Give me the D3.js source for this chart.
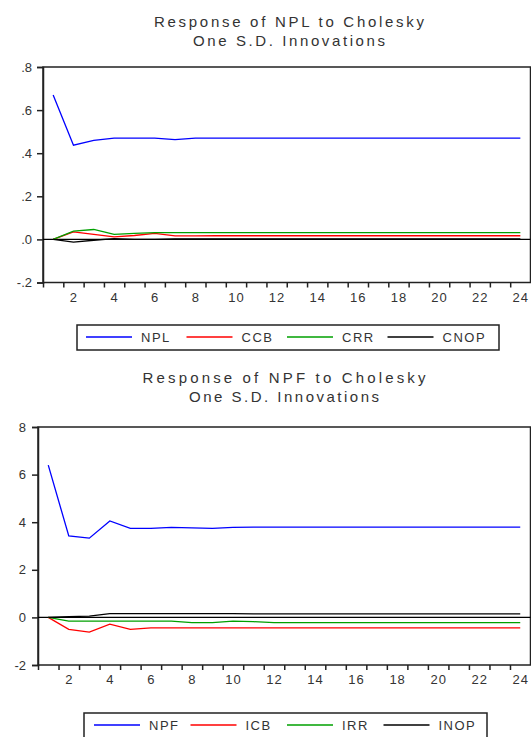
<!DOCTYPE html>
<html>
<head>
<meta charset="utf-8">
<title>Impulse responses</title>
<script src="https://d3js.org/d3.v7.min.js"></script>
<style>
  body { margin: 0; background: #fff; }
  svg { display: block; font-family: "Liberation Sans", Arial, sans-serif; }
  .title { fill: #333; font-size: 15px; text-anchor: middle; }
  .axis text { fill: #333; font-size: 13px; }
  .axis path, .axis line { stroke: #222; }
  .series { fill: none; stroke-width: 1.3; }
  .legend text { fill: #333; font-size: 13px; letter-spacing: 1.5px; }
</style>
</head>
<body>
<script>
// periods after the shock
const periods = [1, 2, 3, 4, 5, 6, 7, 8, 9, 10, 11, 12, 13, 14, 15, 16, 17, 18, 19, 20, 21, 22, 23, 24];
const xLabels = [2, 4, 6, 8, 10, 12, 14, 16, 18, 20, 22, 24];
const colors = ["#0000ff", "#ff0000", "#00a000", "#000000"];

// top panel: response of NPL
const topNames = ["NPL", "CCB", "CRR", "CNOP"];
const nplNPL  = [0.67, 0.437, 0.46, 0.47, 0.47, 0.47, 0.463, 0.47, 0.47, 0.47, 0.47, 0.47, 0.47, 0.47, 0.47, 0.47, 0.47, 0.47, 0.47, 0.47, 0.47, 0.47, 0.47, 0.47];
const nplCCB  = [0.0, 0.035, 0.023, 0.012, 0.018, 0.028, 0.016, 0.016, 0.017, 0.017, 0.017, 0.017, 0.017, 0.017, 0.017, 0.017, 0.017, 0.017, 0.017, 0.017, 0.017, 0.017, 0.017, 0.017];
const nplCRR  = [0.0, 0.038, 0.046, 0.023, 0.028, 0.031, 0.031, 0.031, 0.031, 0.031, 0.031, 0.031, 0.031, 0.031, 0.031, 0.031, 0.031, 0.031, 0.031, 0.031, 0.031, 0.031, 0.031, 0.031];
const nplCNOP = [0.0, -0.013, -0.004, 0.004, 0.0, 0.0, 0.002, 0.002, 0.002, 0.002, 0.002, 0.002, 0.002, 0.002, 0.002, 0.002, 0.002, 0.002, 0.002, 0.002, 0.002, 0.002, 0.002, 0.002];
const topYTicks = [-0.2, 0, 0.2, 0.4, 0.6, 0.8];
const topYLabels = ["-.2", ".0", ".2", ".4", ".6", ".8"];

// bottom panel: response of NPF
const botNames = ["NPF", "ICB", "IRR", "INOP"];
const npfNPF  = [6.4, 3.42, 3.33, 4.05, 3.74, 3.74, 3.78, 3.76, 3.74, 3.78, 3.79, 3.79, 3.79, 3.79, 3.79, 3.79, 3.79, 3.79, 3.79, 3.79, 3.79, 3.79, 3.79, 3.79];
const npfICB  = [0.0, -0.5, -0.62, -0.28, -0.5, -0.44, -0.44, -0.44, -0.44, -0.44, -0.44, -0.44, -0.44, -0.44, -0.44, -0.44, -0.44, -0.44, -0.44, -0.44, -0.44, -0.44, -0.44, -0.44];
const npfIRR  = [0.0, -0.16, -0.16, -0.16, -0.16, -0.16, -0.16, -0.22, -0.22, -0.16, -0.18, -0.22, -0.22, -0.22, -0.22, -0.22, -0.22, -0.22, -0.22, -0.22, -0.22, -0.22, -0.22, -0.22];
const npfINOP = [0.0, 0.03, 0.05, 0.16, 0.16, 0.16, 0.16, 0.16, 0.16, 0.16, 0.15, 0.15, 0.15, 0.15, 0.15, 0.15, 0.15, 0.15, 0.15, 0.15, 0.15, 0.15, 0.15, 0.15];
const botYTicks = [-2, 0, 2, 4, 6, 8];
const botYLabels = ["-2", "0", "2", "4", "6", "8"];

const svg = d3.select("body").append("svg").attr("width", 531).attr("height", 737);

function panel(cfg) {
  const g = svg.append("g");
  const x = d3.scaleLinear().domain([0.5, 24.5]).range([cfg.left, cfg.right]);
  const y = d3.scaleLinear().domain(cfg.yDomain).range([cfg.bottom, cfg.top]);

  g.append("text").attr("class", "title").attr("x", cfg.titleX).attr("y", cfg.titleY)
    .attr("textLength", cfg.titleW[0]).attr("lengthAdjust", "spacing").text(cfg.title[0]);
  g.append("text").attr("class", "title").attr("x", cfg.titleX).attr("y", cfg.titleY + 19)
    .attr("textLength", cfg.titleW[1]).attr("lengthAdjust", "spacing").text(cfg.title[1]);

  // frame
  g.append("rect").attr("x", cfg.left).attr("y", cfg.top)
    .attr("width", cfg.right - cfg.left).attr("height", cfg.bottom - cfg.top)
    .attr("fill", "none").attr("stroke", "#222").attr("stroke-width", 1.5);

  // y axis
  g.append("g").attr("class", "axis").attr("transform", `translate(${cfg.left},0)`)
    .call(d3.axisLeft(y).tickValues(cfg.yTicks).tickSize(6).tickPadding(cfg.yPad)
      .tickFormat((d, i) => cfg.yLabels[i]))
    .call(a => a.selectAll("line").attr("stroke-width", 1.5))
    .call(a => a.select(".domain").attr("stroke-width", 1.5));

  // x axis: ticks on bin edges, labels on bin centres
  g.append("g").attr("class", "axis").attr("transform", `translate(0,${cfg.bottom})`)
    .call(d3.axisBottom(x).tickValues(periods.map(p => p - 0.5)).tickSize(5).tickFormat(""))
    .call(a => a.selectAll("line").attr("stroke-width", 1.5))
    .call(a => a.select(".domain").remove());
  g.append("g").attr("class", "axis").attr("transform", `translate(0,${cfg.bottom})`)
    .call(d3.axisBottom(x).tickValues(xLabels).tickSize(0).tickPadding(10))
    .call(a => a.select(".domain").remove())
    .call(a => a.selectAll("text").attr("letter-spacing", "1px"));

  // zero line
  g.append("line").attr("x1", cfg.left).attr("x2", cfg.right)
    .attr("y1", y(0)).attr("y2", y(0)).attr("stroke", "#000").attr("stroke-width", 1.2);

  const line = d3.line().x((d, i) => x(periods[i])).y(d => y(d));
  cfg.series.forEach((s, k) => {
    g.append("path").attr("class", "series").attr("d", line(s)).attr("stroke", colors[k]);
  });

  // legend
  const lg = g.append("g").attr("class", "legend");
  lg.append("rect").attr("x", cfg.legend.x).attr("y", cfg.legend.y)
    .attr("width", cfg.legend.w).attr("height", 25)
    .attr("fill", "#fff").attr("stroke", "#222").attr("stroke-width", 1.5);
  cfg.names.forEach((n, k) => {
    const x0 = cfg.legend.x + cfg.legend.pad + k * cfg.legend.step;
    const cy = cfg.legend.y + 12;
    lg.append("path").attr("d", `M${x0},${cy}H${x0 + 46}`)
      .style("stroke", colors[k]).style("stroke-width", 1.5).style("fill", "none");
    lg.append("text").attr("x", x0 + 55).attr("y", cy + 5).text(n);
  });
}

panel({
  title: ["Response of NPL to Cholesky", "One S.D. Innovations"], titleW: [270, 192],
  titleX: 289, titleY: 27,
  left: 43, right: 530.5, top: 67, bottom: 282.5, yPad: 5,
  yDomain: [-0.2, 0.8], yTicks: topYTicks, yLabels: topYLabels,
  series: [nplNPL, nplCCB, nplCRR, nplCNOP], names: topNames,
  legend: { x: 77, y: 325, w: 422, pad: 9, step: 100.5 }
});

panel({
  title: ["Response of NPF to Cholesky", "One S.D. Innovations"], titleW: [283, 190],
  titleX: 284, titleY: 383,
  left: 38, right: 530.5, top: 427, bottom: 665, yPad: 6,
  yDomain: [-2, 8], yTicks: botYTicks, yLabels: botYLabels,
  series: [npfNPF, npfICB, npfIRR, npfINOP], names: botNames,
  legend: { x: 84, y: 713, w: 403, pad: 10, step: 96.5 }
});
</script>
</body>
</html>
